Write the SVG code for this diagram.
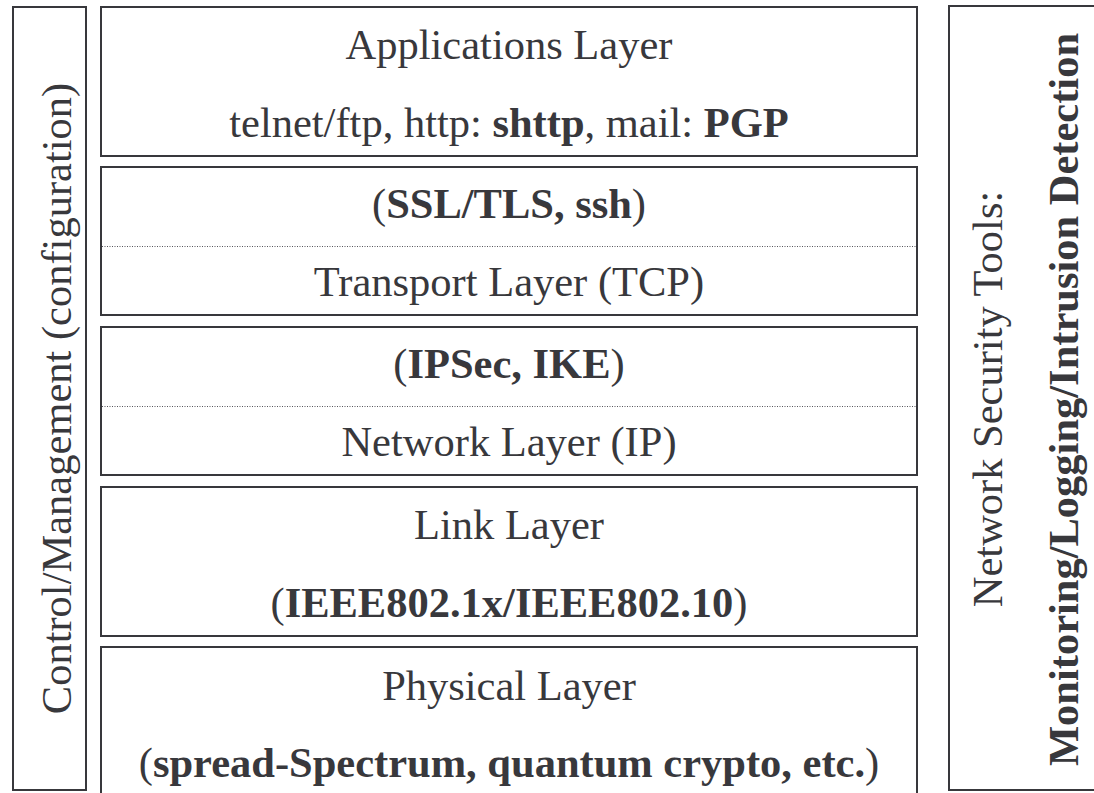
<svg xmlns="http://www.w3.org/2000/svg" width="1094" height="793" viewBox="0 0 1094 793">
  <style>
    .box { fill: #ffffff; stroke: #38383c; stroke-width: 2; }
    .sep { stroke: #55555a; stroke-width: 1; stroke-dasharray: 1 1.5; fill: none; }
    text { font-family: "Liberation Serif", "Times New Roman", serif; font-size: 42.5px; fill: #38383c; }
    .c { text-anchor: middle; }
    .b { font-weight: bold; }
  </style>
  <rect x="0" y="0" width="1094" height="793" fill="#ffffff"/>

  <!-- side bar: control / management -->
  <g id="control">
    <rect class="box" x="13" y="7" width="73" height="783"/>
    <text class="c" transform="translate(71 398.5) rotate(-90)">Control/Management (configuration)</text>
  </g>

  <!-- protocol stack -->
  <g id="applications">
    <rect class="box" x="101" y="7" width="816" height="149"/>
    <text class="c" x="509" y="59">Applications Layer</text>
    <text class="c" x="509" y="137">telnet/ftp, http: <tspan class="b">shttp</tspan>, mail: <tspan class="b">PGP</tspan></text>
  </g>

  <g id="transport">
    <rect class="box" x="101" y="167" width="816" height="148"/>
    <line class="sep" x1="102" y1="246.5" x2="916" y2="246.5"/>
    <text class="c" x="509" y="218">(<tspan class="b">SSL/TLS, ssh</tspan>)</text>
    <text class="c" x="509" y="296">Transport Layer (TCP)</text>
  </g>

  <g id="network">
    <rect class="box" x="101" y="327" width="816" height="148"/>
    <line class="sep" x1="102" y1="406.5" x2="916" y2="406.5"/>
    <text class="c" x="509" y="378">(<tspan class="b">IPSec, IKE</tspan>)</text>
    <text class="c" x="509" y="456">Network Layer (IP)</text>
  </g>

  <g id="link">
    <rect class="box" x="101" y="487" width="816" height="149"/>
    <text class="c" x="509" y="539">Link Layer</text>
    <text class="c" x="509" y="617">(<tspan class="b">IEEE802.1x/IEEE802.10</tspan>)</text>
  </g>

  <g id="physical">
    <rect class="box" x="101" y="647" width="816" height="160"/>
    <text class="c" x="509" y="700">Physical Layer</text>
    <text class="c" x="509" y="777">(<tspan class="b">spread-Spectrum, quantum crypto, etc.</tspan>)</text>
  </g>

  <!-- side bar: security tools -->
  <g id="security">
    <rect class="box" x="949" y="6" width="160" height="784"/>
    <text class="c" transform="translate(1001.5 399) rotate(-90)">Network Security Tools:</text>
    <text class="c b" transform="translate(1078 399.5) rotate(-90)">Monitoring/Logging/Intrusion Detection</text>
  </g>

  <g id="connectors"></g>
</svg>
